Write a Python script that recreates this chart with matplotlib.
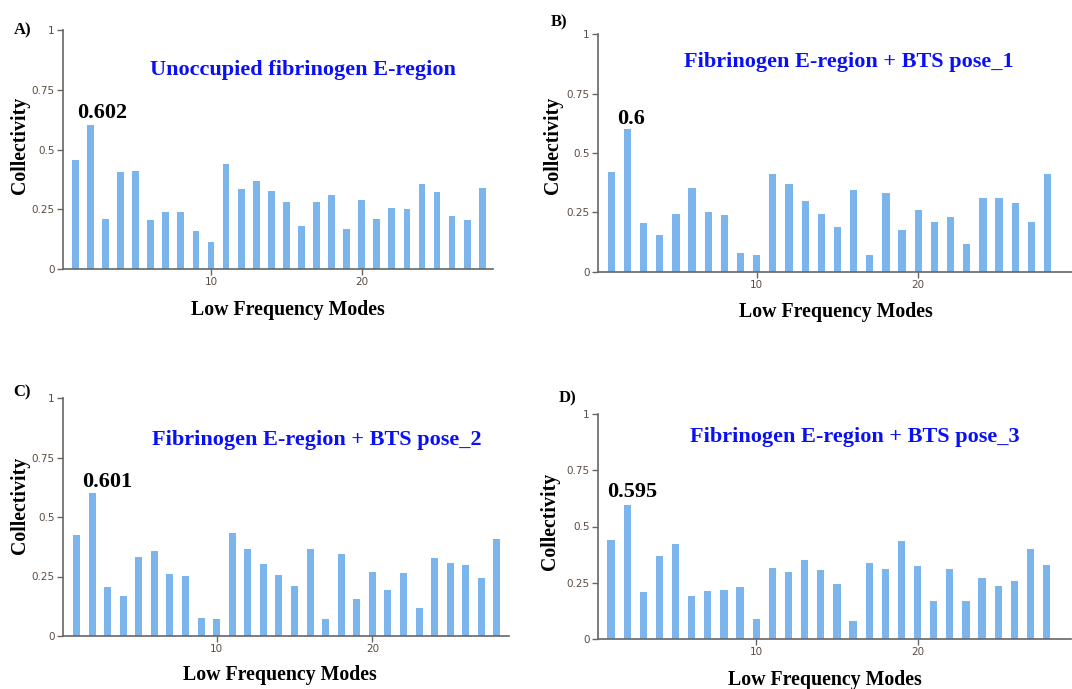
import matplotlib.pyplot as plt
import numpy as np

# Collectivity of the 28 lowest frequency modes
modes = np.arange(1, 29)

unoccupied = [0.457, 0.602, 0.209, 0.404, 0.408, 0.206, 0.237, 0.237, 0.157, 0.111,
              0.440, 0.333, 0.369, 0.326, 0.281, 0.181, 0.281, 0.309, 0.167, 0.290,
              0.209, 0.255, 0.252, 0.355, 0.323, 0.223, 0.206, 0.340]
pose_1 = [0.420, 0.600, 0.204, 0.157, 0.243, 0.352, 0.250, 0.239, 0.080, 0.070,
          0.410, 0.371, 0.297, 0.243, 0.189, 0.345, 0.070, 0.334, 0.175, 0.260,
          0.208, 0.232, 0.119, 0.310, 0.313, 0.290, 0.211, 0.413]
pose_2 = [0.424, 0.601, 0.204, 0.169, 0.331, 0.357, 0.261, 0.254, 0.077, 0.070,
          0.434, 0.367, 0.301, 0.258, 0.212, 0.364, 0.070, 0.343, 0.156, 0.268,
          0.194, 0.263, 0.119, 0.329, 0.308, 0.298, 0.243, 0.406]
pose_3 = [0.441, 0.595, 0.210, 0.371, 0.423, 0.189, 0.214, 0.219, 0.231, 0.090,
          0.317, 0.300, 0.349, 0.306, 0.244, 0.081, 0.337, 0.311, 0.436, 0.324,
          0.169, 0.309, 0.169, 0.269, 0.235, 0.257, 0.401, 0.327]

titles = ['Unoccupied fibrinogen E-region',
          'Fibrinogen E-region + BTS pose_1',
          'Fibrinogen E-region + BTS pose_2',
          'Fibrinogen E-region + BTS pose_3']
peak_labels = ['0.602', '0.6', '0.601', '0.595']
panel_tags = ['A)', 'B)', 'C)', 'D)']

W, H = 1072, 689
fig = plt.figure(figsize=(W / 100, H / 100), dpi=100)

serif = ['Liberation Serif', 'DejaVu Serif']
tickfont = ['Liberation Sans Narrow', 'DejaVu Sans']
bar_color = '#7cb5ec'
spine_color = '#666666'

# pixel boxes: left, top, bottom, x-range
panels = [
    dict(data=unoccupied, left=63, top=30, bottom=269, xlim=(0.18, 28.7), ppu=15.07,
         title_xy=(303, 70), peak_xy=(77, 113), tag_xy=(14, 30),
         ylab_xy=(20, 145), xlab_xy=(288, 310)),
    dict(data=pose_1, left=598, top=34, bottom=272, xlim=(0.18, 29.5), ppu=16.16,
         title_xy=(849, 62), peak_xy=(617, 119), tag_xy=(551, 22),
         ylab_xy=(553, 145), xlab_xy=(836, 312)),
    dict(data=pose_2, left=63, top=398, bottom=636, xlim=(0.13, 28.8), ppu=15.57,
         title_xy=(317, 440), peak_xy=(82, 482), tag_xy=(13, 392),
         ylab_xy=(20, 505), xlab_xy=(280, 675)),
    dict(data=pose_3, left=598, top=414, bottom=639, xlim=(0.19, 29.5), ppu=16.13,
         title_xy=(855, 437), peak_xy=(607, 492), tag_xy=(559, 398),
         ylab_xy=(550, 521), xlab_xy=(825, 680)),
]

for p, title, peak, tag in zip(panels, titles, peak_labels, panel_tags):
    width_px = (p['xlim'][1] - p['xlim'][0]) * p['ppu']
    ax = fig.add_axes([p['left'] / W, 1 - p['bottom'] / H,
                       width_px / W, (p['bottom'] - p['top']) / H])
    ax.bar(modes, p['data'], width=0.45, color=bar_color, edgecolor='none')
    ax.set_xlim(*p['xlim'])
    ax.set_ylim(0, 1)
    ax.set_yticks([0, 0.25, 0.5, 0.75, 1])
    ax.set_yticklabels(['0', '0.25', '0.5', '0.75', '1'])
    ax.set_xticks([10, 20])
    for s in ['top', 'right']:
        ax.spines[s].set_visible(False)
    for s in ['left', 'bottom']:
        ax.spines[s].set_color(spine_color)
        ax.spines[s].set_linewidth(1.2)
    ax.tick_params(colors=spine_color, labelcolor='#5a4c40', length=4, width=1,
                   labelsize=7.5, pad=2)
    for lab in ax.get_xticklabels() + ax.get_yticklabels():
        lab.set_family(tickfont)

    fig.text(p['title_xy'][0] / W, 1 - p['title_xy'][1] / H, title, color='#0a10f5',
             fontsize=16, fontweight='bold', family=serif, ha='center', va='center')
    fig.text(p['peak_xy'][0] / W, 1 - p['peak_xy'][1] / H, peak, color='black',
             fontsize=16, fontweight='bold', family=serif, ha='left', va='center')
    fig.text(p['tag_xy'][0] / W, 1 - p['tag_xy'][1] / H, tag, color='black',
             fontsize=12, fontweight='bold', family=serif, ha='left', va='center')
    fig.text(p['ylab_xy'][0] / W, 1 - p['ylab_xy'][1] / H, 'Collectivity', color='black',
             fontsize=14.3, fontweight='bold', family=serif, ha='center', va='center',
             rotation=90)
    fig.text(p['xlab_xy'][0] / W, 1 - p['xlab_xy'][1] / H, 'Low Frequency Modes',
             color='black', fontsize=14.3, fontweight='bold', family=serif,
             ha='center', va='center')

fig.savefig('out.png', dpi=100, facecolor='white')
